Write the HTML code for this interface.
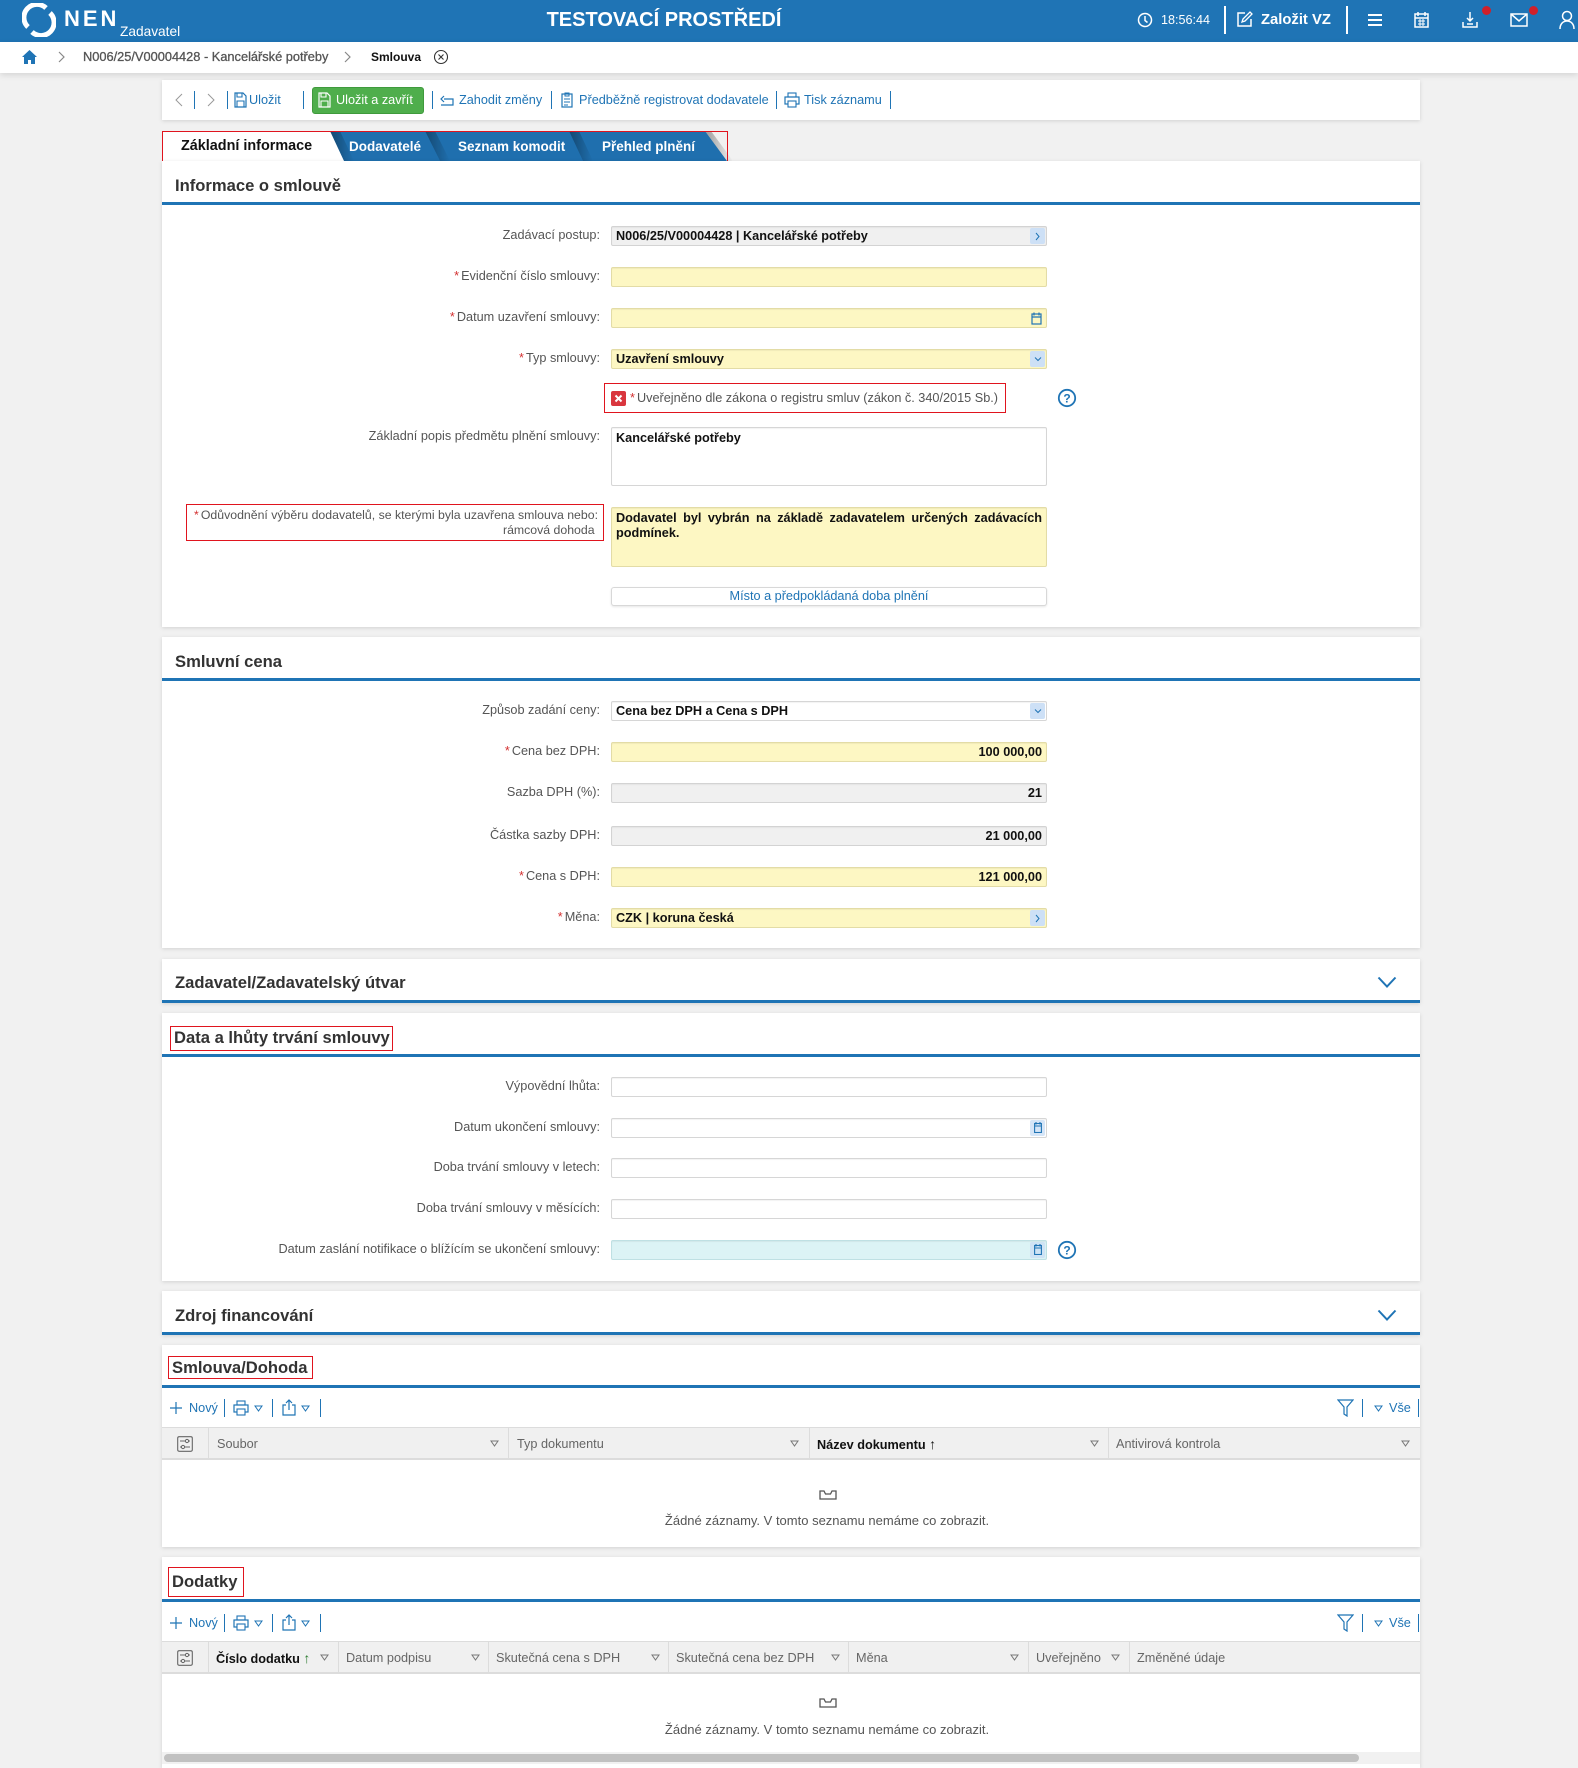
<!DOCTYPE html>
<html><head><meta charset="utf-8">
<style>
*{box-sizing:border-box}
body{margin:0;width:1578px;height:1768px;overflow:hidden;background:#f1f1f1;position:relative;font-family:"Liberation Sans","DejaVu Sans",sans-serif;color:#333}
.a{position:absolute}
.card{position:absolute;left:162px;width:1258px;background:#fff;box-shadow:0 1px 4px rgba(0,0,0,.13)}
.ttl{position:absolute;left:175px;font-size:16.6px;font-weight:bold;color:#333;line-height:20px;white-space:nowrap}
.rb{border:1px solid #e0141e}
.bl{position:absolute;left:162px;width:1258px;height:3px;background:#1f74b5}
.lb{position:absolute;right:978px;font-size:12.7px;color:#555;line-height:16px;white-space:nowrap;text-align:right}
.lb i,.req{color:#d32f2f;font-style:normal;margin-right:2px}
.in{position:absolute;left:611px;width:436px;height:20px;border:1px solid #d6d6d6;border-radius:2px;background:#fff;font-size:12.7px;font-weight:bold;color:#111;line-height:18px;padding:0 4px;white-space:nowrap;box-shadow:inset 0 1px 1px rgba(0,0,0,.05)}
.y{background:#fdf7c3;border-color:#e3dca6}
.g{background:#f0f0f0;border-color:#d3d3d3}
.c{background:#dcf3f5;border-color:#bfe0e3}
.r{text-align:right}
.fb{position:absolute;right:1px;top:1px;width:15px;height:16px;background:#cde0f6;border-radius:2px}
.fb svg{position:absolute;left:4px;top:4px}
.cal{position:absolute;right:4px;top:3px}
.tb{position:absolute;font-size:12.7px;color:#1f74b5;line-height:16px;white-space:nowrap}
.sep{position:absolute;width:1px;background:#1f74b5}
.th{position:absolute;font-size:12.7px;color:#666;line-height:16px;white-space:nowrap}
.vd{position:absolute;width:1px;background:#dcdcdc}
.ft{position:absolute}
.hw{position:absolute;color:#fff;white-space:nowrap}
</style></head><body>

<!-- HEADER -->
<div class="a" style="left:0;top:0;width:1578px;height:42px;background:#1f74b5"></div>
<svg class="a" style="left:22px;top:3px" width="34" height="34" viewBox="0 0 34 34">
  <path d="M6 24 A13 13 0 0 1 24 5" fill="none" stroke="#fff" stroke-width="5"/>
  <path d="M28 10 A13 13 0 0 1 10 29" fill="none" stroke="#fff" stroke-width="5"/>
</svg>
<div class="hw" style="left:64px;top:7px;font-size:22px;font-weight:bold;letter-spacing:3px;line-height:24px">NEN</div>
<div class="hw" style="left:120px;top:24px;font-size:13.7px;line-height:16px">Zadavatel</div>
<div class="hw" style="left:545px;top:9px;width:238px;text-align:center;font-size:20px;font-weight:bold;line-height:22px">TESTOVACÍ PROSTŘEDÍ</div>

<svg class="a" style="left:1137px;top:12px" width="16" height="16" viewBox="0 0 16 16"><circle cx="8" cy="8" r="6.5" fill="none" stroke="#fff" stroke-width="1.5"/><path d="M8 4v4.5l2.5 2" fill="none" stroke="#fff" stroke-width="1.5"/></svg>
<div class="hw" style="left:1161px;top:12px;font-size:12.6px;line-height:16px">18:56:44</div>
<div class="a" style="left:1224px;top:6px;width:2px;height:28px;background:#fff"></div>
<svg class="a" style="left:1236px;top:11px" width="17" height="17" viewBox="0 0 17 17"><path d="M9 2H2v13h13V8" fill="none" stroke="#fff" stroke-width="1.5"/><path d="M6 11l1-3 7-7 2 2-7 7z" fill="none" stroke="#fff" stroke-width="1.3"/></svg>
<div class="hw" style="left:1261px;top:11px;font-size:14.8px;font-weight:bold;line-height:18px">Založit VZ</div>
<div class="a" style="left:1346px;top:6px;width:2px;height:28px;background:#fff"></div>
<svg class="a" style="left:1367px;top:12px" width="16" height="16" viewBox="0 0 16 16"><path d="M1 3h14M1 8h14M1 13h14" stroke="#fff" stroke-width="2"/></svg>
<svg class="a" style="left:1414px;top:11px" width="15" height="17" viewBox="0 0 15 17"><rect x="1" y="3" width="13" height="13" fill="none" stroke="#fff" stroke-width="1.5"/><path d="M4 1v4M11 1v4M1 7h13" stroke="#fff" stroke-width="1.5"/><path d="M4 10h7M4 13h7M6 8v7M9 8v7" stroke="#fff" stroke-width="1"/></svg>
<svg class="a" style="left:1462px;top:11px" width="16" height="17" viewBox="0 0 16 17"><path d="M8 1v9M5 7l3 3 3-3" fill="none" stroke="#fff" stroke-width="1.5"/><path d="M1 11v5h14v-5M5 13h6" fill="none" stroke="#fff" stroke-width="1.5"/></svg>
<div class="a" style="left:1482px;top:6px;width:9px;height:9px;border-radius:50%;background:#d0202a"></div>
<svg class="a" style="left:1510px;top:13px" width="18" height="14" viewBox="0 0 18 14"><rect x="1" y="1" width="16" height="12" fill="none" stroke="#fff" stroke-width="1.5"/><path d="M1 1l8 7 8-7" fill="none" stroke="#fff" stroke-width="1.5"/></svg>
<div class="a" style="left:1529px;top:6px;width:9px;height:9px;border-radius:50%;background:#d0202a"></div>
<svg class="a" style="left:1559px;top:10px" width="16" height="20" viewBox="0 0 16 20"><circle cx="8" cy="6" r="4.5" fill="none" stroke="#fff" stroke-width="1.5"/><path d="M1 19c0-5 3-8 7-8s7 3 7 8" fill="none" stroke="#fff" stroke-width="1.5"/></svg>

<!-- BREADCRUMB -->
<div class="a" style="left:0;top:42px;width:1578px;height:31px;background:#fff;box-shadow:0 2px 6px rgba(0,0,0,.12)"></div>
<svg class="a" style="left:21px;top:49px" width="17" height="16" viewBox="0 0 17 16"><path d="M8.5 1L1 8h2v7h4v-4h3v4h4V8h2z" fill="#1f74b5"/></svg>
<svg class="a" style="left:58px;top:51px" width="8" height="12" viewBox="0 0 8 12"><path d="M1 1l5 5-5 5" fill="none" stroke="#888" stroke-width="1.2"/></svg>
<div class="a" style="left:83px;top:49px;font-size:12.8px;color:#555;line-height:16px;white-space:nowrap;-webkit-text-stroke:0.3px #555">N006/25/V00004428 - Kancelářské potřeby</div>
<svg class="a" style="left:344px;top:51px" width="8" height="12" viewBox="0 0 8 12"><path d="M1 1l5 5-5 5" fill="none" stroke="#888" stroke-width="1.2"/></svg>
<div class="a" style="left:371px;top:49px;font-size:12px;font-weight:bold;color:#111;line-height:16px">Smlouva</div>
<svg class="a" style="left:433px;top:49px" width="16" height="16" viewBox="0 0 16 16"><circle cx="8" cy="8" r="6.5" fill="none" stroke="#333" stroke-width="1.1"/><path d="M5.5 5.5l5 5M10.5 5.5l-5 5" stroke="#333" stroke-width="1.1"/></svg>

<!-- TOOLBAR -->
<div class="card" style="top:80px;height:40px"></div>
<svg class="a" style="left:175px;top:93px" width="8" height="14" viewBox="0 0 8 14"><path d="M7 1L1 7l6 6" fill="none" stroke="#999" stroke-width="1"/></svg>
<div class="sep" style="left:194px;top:91px;height:18px"></div>
<svg class="a" style="left:207px;top:93px" width="8" height="14" viewBox="0 0 8 14"><path d="M1 1l6 6-6 6" fill="none" stroke="#999" stroke-width="1"/></svg>
<div class="sep" style="left:227px;top:91px;height:18px"></div>
<svg class="a" style="left:234px;top:92px" width="13" height="16" viewBox="0 0 13 16"><path d="M1 1h8l3 3v11H1z" fill="none" stroke="#1f74b5" stroke-width="1.2"/><path d="M3 1v4h5V1M3 15V9h7v6" fill="none" stroke="#1f74b5" stroke-width="1.1"/></svg>
<div class="tb" style="left:249px;top:92px">Uložit</div>
<div class="sep" style="left:303px;top:91px;height:18px"></div>
<div class="a" style="left:312px;top:87px;width:112px;height:27px;background:#4fae4c;border-radius:3px;border:1px solid #3f9a3c"></div>
<svg class="a" style="left:318px;top:92px" width="13" height="16" viewBox="0 0 13 16"><path d="M1 1h8l3 3v11H1z" fill="none" stroke="#fff" stroke-width="1.2"/><path d="M3 1v4h5V1M3 15V9h7v6" fill="none" stroke="#fff" stroke-width="1.1"/></svg>
<div class="a" style="left:336px;top:92px;font-size:12.7px;color:#fff;line-height:16px;white-space:nowrap">Uložit a zavřít</div>
<div class="sep" style="left:432px;top:91px;height:18px"></div>
<svg class="a" style="left:439px;top:93px" width="16" height="14" viewBox="0 0 16 14"><path d="M2 12h12V6H5" fill="none" stroke="#1f74b5" stroke-width="1.2"/><path d="M5 3L2 6l3 3" fill="none" stroke="#1f74b5" stroke-width="1.2"/></svg>
<div class="tb" style="left:459px;top:92px">Zahodit změny</div>
<div class="sep" style="left:551px;top:91px;height:18px"></div>
<svg class="a" style="left:561px;top:91px" width="12" height="17" viewBox="0 0 12 17"><rect x="1" y="3" width="10" height="13" fill="none" stroke="#1f74b5" stroke-width="1.2"/><path d="M4 2h4v3H4zM3 8h6M3 11h6M3 14h4" fill="none" stroke="#1f74b5" stroke-width="1"/></svg>
<div class="tb" style="left:579px;top:92px">Předběžně registrovat dodavatele</div>
<div class="sep" style="left:776px;top:91px;height:18px"></div>
<svg class="a" style="left:784px;top:92px" width="16" height="16" viewBox="0 0 16 16"><rect x="4" y="1" width="8" height="4" fill="none" stroke="#1f74b5" stroke-width="1.1"/><rect x="1" y="5" width="14" height="7" fill="none" stroke="#1f74b5" stroke-width="1.2"/><rect x="4" y="9" width="8" height="6" fill="#fff" stroke="#1f74b5" stroke-width="1.1"/></svg>
<div class="tb" style="left:804px;top:92px">Tisk záznamu</div>
<div class="sep" style="left:890px;top:91px;height:18px"></div>

<!-- TABS -->
<svg class="a" style="left:162px;top:131px" width="570" height="30" viewBox="0 0 570 30">
  <defs><linearGradient id="sh" x1="0" x2="1" y1="0" y2="0"><stop offset="0" stop-color="#000" stop-opacity=".35"/><stop offset="1" stop-color="#000" stop-opacity="0"/></linearGradient></defs>
  <polygon points="400,0 543,0 565,30 400,30" fill="#1f6fae"/>
  <polygon points="407,0 417,0 431,30 421,30" fill="url(#sh)"/>
  <polygon points="250,0 407,0 421,30 250,30" fill="#1f6fae"/>
  <polygon points="263,0 273,0 288,30 278,30" fill="url(#sh)"/>
  <polygon points="150,0 263,0 278,30 150,30" fill="#1f6fae"/>
  <polygon points="168,0 178,0 192,30 182,30" fill="url(#sh)"/>
  <polygon points="0,0 168,0 182,30 0,30" fill="#fff"/>
  <polygon points="543,0 549,0 571,30 565,30" fill="url(#sh)"/>
</svg>
<div class="a" style="left:181px;top:137px;font-size:14.4px;font-weight:bold;color:#111;line-height:18px;white-space:nowrap">Základní informace</div>
<div class="a" style="left:349px;top:138px;font-size:13.5px;font-weight:bold;color:#fff;line-height:17px;white-space:nowrap">Dodavatelé</div>
<div class="a" style="left:458px;top:138px;font-size:13.5px;font-weight:bold;color:#fff;line-height:17px;white-space:nowrap">Seznam komodit</div>
<div class="a" style="left:602px;top:138px;font-size:13.5px;font-weight:bold;color:#fff;line-height:17px;white-space:nowrap">Přehled plnění</div>
<div class="a rb" style="left:162px;top:131px;width:566px;height:31px"></div>

<!-- CARD 1 -->
<div class="card" style="top:161px;height:466px"></div>
<div class="ttl" style="top:176px">Informace o smlouvě</div>
<div class="bl" style="top:202px"></div>

<div class="lb" style="top:227px">Zadávací postup:</div>
<div class="in g" style="top:226px">N006/25/V00004428 | Kancelářské potřeby<div class="fb"><svg width="7" height="9" viewBox="0 0 7 9"><path d="M2 1l3 3.5L2 8" fill="none" stroke="#1f74b5" stroke-width="1"/></svg></div></div>

<div class="lb" style="top:268px"><i>*</i>Evidenční číslo smlouvy:</div>
<div class="in y" style="top:267px"></div>

<div class="lb" style="top:309px"><i>*</i>Datum uzavření smlouvy:</div>
<div class="in y" style="top:308px"><svg class="cal" width="11" height="13" viewBox="0 0 11 13"><rect x="1" y="2" width="9" height="10" fill="none" stroke="#1f74b5" stroke-width="1.2"/><path d="M3 0.5v3M8 0.5v3M1 5h9" stroke="#1f74b5" stroke-width="1.2"/></svg></div>

<div class="lb" style="top:350px"><i>*</i>Typ smlouvy:</div>
<div class="in y" style="top:349px">Uzavření smlouvy<div class="fb"><svg width="8" height="8" viewBox="0 0 8 8"><path d="M1 2.5l3 3 3-3" fill="none" stroke="#1f74b5" stroke-width="1"/></svg></div></div>

<div class="a rb" style="left:604px;top:383px;width:402px;height:30px"></div>
<div class="a" style="left:611px;top:391px;width:15px;height:15px;background:#d9363e;border-radius:2px"></div>
<svg class="a" style="left:611px;top:391px" width="15" height="15" viewBox="0 0 15 15"><path d="M4.5 4.5l6 6M10.5 4.5l-6 6" stroke="#fff" stroke-width="2"/></svg>
<div class="a" style="left:630px;top:390px;font-size:12.7px;color:#555;line-height:16px;white-space:nowrap"><span class="req">*</span>Uveřejněno dle zákona o registru smluv (zákon č. 340/2015 Sb.)</div>
<svg class="a" style="left:1057px;top:388px" width="20" height="20" viewBox="0 0 20 20"><circle cx="10" cy="10" r="8.2" fill="none" stroke="#1f74b5" stroke-width="1.8"/><text x="10" y="14.5" text-anchor="middle" font-family="Liberation Sans, sans-serif" font-size="12" font-weight="bold" fill="#1f74b5">?</text></svg>

<div class="lb" style="top:428px">Základní popis předmětu plnění smlouvy:</div>
<div class="in" style="top:427px;height:59px;line-height:16px;padding-top:2px">Kancelářské potřeby</div>

<div class="a rb" style="left:186px;top:504px;width:418px;height:37px"></div>
<div class="lb" style="top:508px;right:980px;line-height:15px;font-size:12.3px"><i>*</i>Odůvodnění výběru dodavatelů, se kterými byla uzavřena smlouva nebo:<br>rámcová dohoda&nbsp;</div>

<div class="in y" style="top:507px;height:60px;white-space:normal;line-height:15px;padding-top:3px">
  <div style="text-align:justify;text-align-last:justify">Dodavatel byl vybrán na základě zadavatelem určených zadávacích</div>
  <div>podmínek.</div>
</div>

<div class="a" style="left:611px;top:587px;width:436px;height:19px;border:1px solid #d8d8d8;border-radius:3px;background:#fff;box-shadow:0 1px 2px rgba(0,0,0,.1);font-size:12.7px;color:#1f74b5;text-align:center;line-height:17px">Místo a předpokládaná doba plnění</div>

<!-- CARD 2 -->
<div class="card" style="top:637px;height:311px"></div>
<div class="ttl" style="top:652px">Smluvní cena</div>
<div class="bl" style="top:678px"></div>

<div class="lb" style="top:702px">Způsob zadání ceny:</div>
<div class="in" style="top:701px">Cena bez DPH a Cena s DPH<div class="fb"><svg width="8" height="8" viewBox="0 0 8 8"><path d="M1 2.5l3 3 3-3" fill="none" stroke="#1f74b5" stroke-width="1"/></svg></div></div>

<div class="lb" style="top:743px"><i>*</i>Cena bez DPH:</div>
<div class="in y r" style="top:742px">100 000,00</div>

<div class="lb" style="top:784px">Sazba DPH (%):</div>
<div class="in g r" style="top:783px">21</div>

<div class="lb" style="top:827px">Částka sazby DPH:</div>
<div class="in g r" style="top:826px">21 000,00</div>

<div class="lb" style="top:868px"><i>*</i>Cena s DPH:</div>
<div class="in y r" style="top:867px">121 000,00</div>

<div class="lb" style="top:909px"><i>*</i>Měna:</div>
<div class="in y" style="top:908px">CZK | koruna česká<div class="fb"><svg width="7" height="9" viewBox="0 0 7 9"><path d="M2 1l3 3.5L2 8" fill="none" stroke="#1f74b5" stroke-width="1"/></svg></div></div>

<!-- CARD 3 -->
<div class="card" style="top:959px;height:44px"></div>
<div class="ttl" style="top:973px">Zadavatel/Zadavatelský útvar</div>
<svg class="a" style="left:1377px;top:976px" width="20" height="13" viewBox="0 0 20 13"><path d="M1.5 1.5l8.5 9 8.5-9" fill="none" stroke="#1f74b5" stroke-width="2"/></svg>
<div class="bl" style="top:1000px"></div>

<!-- CARD 4 -->
<div class="card" style="top:1013px;height:268px"></div>
<div class="a rb" style="left:170px;top:1026px;width:223px;height:25px"></div>
<div class="ttl" style="left:174px;top:1028px">Data a lhůty trvání smlouvy</div>
<div class="bl" style="top:1054px"></div>

<div class="lb" style="top:1078px">Výpovědní lhůta:</div>
<div class="in" style="top:1077px"></div>

<div class="lb" style="top:1119px">Datum ukončení smlouvy:</div>
<div class="in" style="top:1118px"><div class="fb" style="background:#d5e5f7"><svg width="8" height="11" viewBox="0 0 8 11" style="left:4px;top:2px"><rect x="0.6" y="1.5" width="6.8" height="9" fill="none" stroke="#1f74b5" stroke-width="1.1"/><path d="M2 0v2.5M6 0v2.5M0.6 4h6.8" stroke="#1f74b5" stroke-width="1.1"/></svg></div></div>

<div class="lb" style="top:1159px">Doba trvání smlouvy v letech:</div>
<div class="in" style="top:1158px"></div>

<div class="lb" style="top:1200px">Doba trvání smlouvy v měsících:</div>
<div class="in" style="top:1199px"></div>

<div class="lb" style="top:1241px">Datum zaslání notifikace o blížícím se ukončení smlouvy:</div>
<div class="in c" style="top:1240px"><div class="fb" style="background:#cfe3f4"><svg width="8" height="11" viewBox="0 0 8 11" style="left:4px;top:2px"><rect x="0.6" y="1.5" width="6.8" height="9" fill="none" stroke="#1f74b5" stroke-width="1.1"/><path d="M2 0v2.5M6 0v2.5M0.6 4h6.8" stroke="#1f74b5" stroke-width="1.1"/></svg></div></div>
<svg class="a" style="left:1057px;top:1240px" width="20" height="20" viewBox="0 0 20 20"><circle cx="10" cy="10" r="8.2" fill="none" stroke="#1f74b5" stroke-width="1.8"/><text x="10" y="14.5" text-anchor="middle" font-family="Liberation Sans, sans-serif" font-size="12" font-weight="bold" fill="#1f74b5">?</text></svg>

<!-- CARD 5 -->
<div class="card" style="top:1291px;height:44px"></div>
<div class="ttl" style="top:1306px">Zdroj financování</div>
<svg class="a" style="left:1377px;top:1309px" width="20" height="13" viewBox="0 0 20 13"><path d="M1.5 1.5l8.5 9 8.5-9" fill="none" stroke="#1f74b5" stroke-width="2"/></svg>
<div class="bl" style="top:1332px"></div>

<!-- CARD 6 Smlouva/Dohoda -->
<div class="card" style="top:1345px;height:202px"></div>
<div class="a rb" style="left:168px;top:1356px;width:145px;height:23px"></div>
<div class="ttl" style="left:172px;top:1358px">Smlouva/Dohoda</div>
<div class="bl" style="top:1385px"></div>

<svg class="a" style="left:170px;top:1402px" width="12" height="12" viewBox="0 0 12 12"><path d="M6 0v12M0 6h12" stroke="#1f74b5" stroke-width="1.2"/></svg>
<div class="tb" style="left:189px;top:1400px">Nový</div>
<div class="sep" style="left:224px;top:1399px;height:18px"></div>
<svg class="a" style="left:233px;top:1400px" width="16" height="16" viewBox="0 0 16 16"><rect x="4" y="1" width="8" height="4" fill="none" stroke="#1f74b5" stroke-width="1.1"/><rect x="1" y="5" width="14" height="7" fill="none" stroke="#1f74b5" stroke-width="1.2"/><rect x="4" y="9" width="8" height="6" fill="#fff" stroke="#1f74b5" stroke-width="1.1"/></svg>
<svg class="a" style="left:254px;top:1405px" width="9" height="7" viewBox="0 0 9 7"><path d="M1 1h7L4.5 6z" fill="none" stroke="#1f74b5" stroke-width="1"/></svg>
<div class="sep" style="left:272px;top:1399px;height:18px"></div>
<svg class="a" style="left:282px;top:1399px" width="14" height="17" viewBox="0 0 14 17"><path d="M4 6H1v10h12V6h-3" fill="none" stroke="#1f74b5" stroke-width="1.2"/><path d="M7 11V1M4 4l3-3 3 3" fill="none" stroke="#1f74b5" stroke-width="1.2"/></svg>
<svg class="a" style="left:301px;top:1405px" width="9" height="7" viewBox="0 0 9 7"><path d="M1 1h7L4.5 6z" fill="none" stroke="#1f74b5" stroke-width="1"/></svg>
<div class="sep" style="left:320px;top:1399px;height:18px"></div>

<svg class="a" style="left:1337px;top:1399px" width="17" height="18" viewBox="0 0 17 18"><path d="M1 1h15l-6 7v9l-3-2V8z" fill="none" stroke="#1f74b5" stroke-width="1.2"/></svg>
<div class="sep" style="left:1362px;top:1399px;height:18px"></div>
<svg class="a" style="left:1374px;top:1405px" width="9" height="7" viewBox="0 0 9 7"><path d="M1 1h7L4.5 6z" fill="none" stroke="#1f74b5" stroke-width="1"/></svg>
<div class="tb" style="left:1389px;top:1400px">Vše</div>
<div class="sep" style="left:1418px;top:1399px;height:18px"></div>

<div class="a" style="left:162px;top:1427px;width:1258px;height:33px;background:#f0f0f0;border-top:1px solid #dcdcdc;border-bottom:2px solid #dcdcdc"></div>
<svg class="a" style="left:177px;top:1436px" width="16" height="16" viewBox="0 0 16 16"><rect x="0.7" y="0.7" width="14.6" height="14.6" rx="1.5" fill="none" stroke="#666" stroke-width="1.1"/><path d="M3 5h10M3 11h10" stroke="#666" stroke-width="1"/><circle cx="10" cy="5" r="1.6" fill="#f0f0f0" stroke="#666"/><circle cx="6" cy="11" r="1.6" fill="#f0f0f0" stroke="#666"/></svg>
<div class="vd" style="left:208px;top:1428px;height:30px"></div>
<div class="vd" style="left:508px;top:1428px;height:30px"></div>
<div class="vd" style="left:809px;top:1428px;height:30px"></div>
<div class="vd" style="left:1108px;top:1428px;height:30px"></div>
<div class="th" style="left:217px;top:1436px">Soubor</div>
<div class="th" style="left:517px;top:1436px">Typ dokumentu</div>
<div class="th" style="left:817px;top:1436px;color:#111;font-weight:bold">Název dokumentu <span style="font-weight:normal;font-size:14px">&#8593;</span></div>
<div class="th" style="left:1116px;top:1436px">Antivirová kontrola</div>
<svg class="a" style="left:490px;top:1440px" width="9" height="7" viewBox="0 0 9 7"><path d="M1 1h7L4.5 6z" fill="none" stroke="#777" stroke-width="1"/></svg>
<svg class="a" style="left:790px;top:1440px" width="9" height="7" viewBox="0 0 9 7"><path d="M1 1h7L4.5 6z" fill="none" stroke="#777" stroke-width="1"/></svg>
<svg class="a" style="left:1090px;top:1440px" width="9" height="7" viewBox="0 0 9 7"><path d="M1 1h7L4.5 6z" fill="none" stroke="#777" stroke-width="1"/></svg>
<svg class="a" style="left:1401px;top:1440px" width="9" height="7" viewBox="0 0 9 7"><path d="M1 1h7L4.5 6z" fill="none" stroke="#777" stroke-width="1"/></svg>

<svg class="a" style="left:819px;top:1489px" width="18" height="11" viewBox="0 0 18 11"><path d="M1 2h4l1.5 3h5L13 2h4v8H1z" fill="none" stroke="#555" stroke-width="1.3"/></svg>
<div class="a" style="left:562px;top:1513px;width:530px;text-align:center;font-size:13px;color:#555;line-height:16px">Žádné záznamy. V tomto seznamu nemáme co zobrazit.</div>

<!-- CARD 7 Dodatky -->
<div class="card" style="top:1557px;height:211px"></div>
<div class="a rb" style="left:168px;top:1567px;width:76px;height:30px"></div>
<div class="ttl" style="left:172px;top:1572px">Dodatky</div>
<div class="bl" style="top:1599px"></div>

<svg class="a" style="left:170px;top:1617px" width="12" height="12" viewBox="0 0 12 12"><path d="M6 0v12M0 6h12" stroke="#1f74b5" stroke-width="1.2"/></svg>
<div class="tb" style="left:189px;top:1615px">Nový</div>
<div class="sep" style="left:224px;top:1614px;height:18px"></div>
<svg class="a" style="left:233px;top:1615px" width="16" height="16" viewBox="0 0 16 16"><rect x="4" y="1" width="8" height="4" fill="none" stroke="#1f74b5" stroke-width="1.1"/><rect x="1" y="5" width="14" height="7" fill="none" stroke="#1f74b5" stroke-width="1.2"/><rect x="4" y="9" width="8" height="6" fill="#fff" stroke="#1f74b5" stroke-width="1.1"/></svg>
<svg class="a" style="left:254px;top:1620px" width="9" height="7" viewBox="0 0 9 7"><path d="M1 1h7L4.5 6z" fill="none" stroke="#1f74b5" stroke-width="1"/></svg>
<div class="sep" style="left:272px;top:1614px;height:18px"></div>
<svg class="a" style="left:282px;top:1614px" width="14" height="17" viewBox="0 0 14 17"><path d="M4 6H1v10h12V6h-3" fill="none" stroke="#1f74b5" stroke-width="1.2"/><path d="M7 11V1M4 4l3-3 3 3" fill="none" stroke="#1f74b5" stroke-width="1.2"/></svg>
<svg class="a" style="left:301px;top:1620px" width="9" height="7" viewBox="0 0 9 7"><path d="M1 1h7L4.5 6z" fill="none" stroke="#1f74b5" stroke-width="1"/></svg>
<div class="sep" style="left:320px;top:1614px;height:18px"></div>

<svg class="a" style="left:1337px;top:1614px" width="17" height="18" viewBox="0 0 17 18"><path d="M1 1h15l-6 7v9l-3-2V8z" fill="none" stroke="#1f74b5" stroke-width="1.2"/></svg>
<div class="sep" style="left:1362px;top:1614px;height:18px"></div>
<svg class="a" style="left:1374px;top:1620px" width="9" height="7" viewBox="0 0 9 7"><path d="M1 1h7L4.5 6z" fill="none" stroke="#1f74b5" stroke-width="1"/></svg>
<div class="tb" style="left:1389px;top:1615px">Vše</div>
<div class="sep" style="left:1418px;top:1614px;height:18px"></div>

<div class="a" style="left:162px;top:1641px;width:1258px;height:33px;background:#f0f0f0;border-top:1px solid #dcdcdc;border-bottom:2px solid #dcdcdc"></div>
<svg class="a" style="left:177px;top:1650px" width="16" height="16" viewBox="0 0 16 16"><rect x="0.7" y="0.7" width="14.6" height="14.6" rx="1.5" fill="none" stroke="#666" stroke-width="1.1"/><path d="M3 5h10M3 11h10" stroke="#666" stroke-width="1"/><circle cx="10" cy="5" r="1.6" fill="#f0f0f0" stroke="#666"/><circle cx="6" cy="11" r="1.6" fill="#f0f0f0" stroke="#666"/></svg>
<div class="vd" style="left:208px;top:1642px;height:30px"></div>
<div class="vd" style="left:338px;top:1642px;height:30px"></div>
<div class="vd" style="left:488px;top:1642px;height:30px"></div>
<div class="vd" style="left:668px;top:1642px;height:30px"></div>
<div class="vd" style="left:848px;top:1642px;height:30px"></div>
<div class="vd" style="left:1028px;top:1642px;height:30px"></div>
<div class="vd" style="left:1129px;top:1642px;height:30px"></div>
<div class="th" style="left:216px;top:1650px;color:#111;font-weight:bold">Číslo dodatku <span style="font-weight:normal;font-size:14px;color:#2e7d32">&#8593;</span></div>
<div class="th" style="left:346px;top:1650px">Datum podpisu</div>
<div class="th" style="left:496px;top:1650px">Skutečná cena s DPH</div>
<div class="th" style="left:676px;top:1650px">Skutečná cena bez DPH</div>
<div class="th" style="left:856px;top:1650px">Měna</div>
<div class="th" style="left:1036px;top:1650px">Uveřejněno</div>
<div class="th" style="left:1137px;top:1650px">Změněné údaje</div>
<svg class="a" style="left:320px;top:1654px" width="9" height="7" viewBox="0 0 9 7"><path d="M1 1h7L4.5 6z" fill="none" stroke="#777" stroke-width="1"/></svg>
<svg class="a" style="left:471px;top:1654px" width="9" height="7" viewBox="0 0 9 7"><path d="M1 1h7L4.5 6z" fill="none" stroke="#777" stroke-width="1"/></svg>
<svg class="a" style="left:651px;top:1654px" width="9" height="7" viewBox="0 0 9 7"><path d="M1 1h7L4.5 6z" fill="none" stroke="#777" stroke-width="1"/></svg>
<svg class="a" style="left:831px;top:1654px" width="9" height="7" viewBox="0 0 9 7"><path d="M1 1h7L4.5 6z" fill="none" stroke="#777" stroke-width="1"/></svg>
<svg class="a" style="left:1010px;top:1654px" width="9" height="7" viewBox="0 0 9 7"><path d="M1 1h7L4.5 6z" fill="none" stroke="#777" stroke-width="1"/></svg>
<svg class="a" style="left:1111px;top:1654px" width="9" height="7" viewBox="0 0 9 7"><path d="M1 1h7L4.5 6z" fill="none" stroke="#777" stroke-width="1"/></svg>

<svg class="a" style="left:819px;top:1697px" width="18" height="11" viewBox="0 0 18 11"><path d="M1 2h4l1.5 3h5L13 2h4v8H1z" fill="none" stroke="#555" stroke-width="1.3"/></svg>
<div class="a" style="left:562px;top:1722px;width:530px;text-align:center;font-size:13px;color:#555;line-height:16px">Žádné záznamy. V tomto seznamu nemáme co zobrazit.</div>

<div class="a" style="left:162px;top:1752px;width:1258px;height:12px;background:#f1f1f1"></div>
<div class="a" style="left:164px;top:1754px;width:1195px;height:8px;background:#c1c1c1;border-radius:4px"></div>

</body></html>
